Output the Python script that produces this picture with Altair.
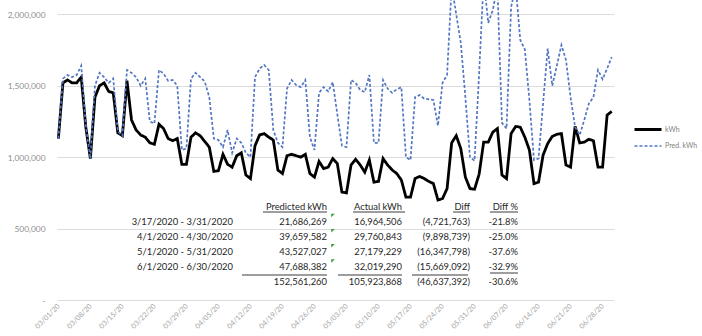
import json

import altair as alt
import pandas as pd

FONT = "Lato"

# Daily energy use, 3/1/2020 .. 6/30/2020 (kWh)
kwh = [
    1130000, 1520000, 1540000, 1520000, 1520000, 1560000, 1210000,
    990000, 1420000, 1500000, 1520000, 1460000, 1450000, 1170000,
    1150000, 1535000, 1260000, 1190000, 1155000, 1140000, 1100000,
    1090000, 1230000, 1200000, 1130000, 1115000, 1130000, 950000,
    950000, 1140000, 1170000, 1150000, 1110000, 1070000, 900000,
    905000, 1020000, 950000, 930000, 1010000, 1030000, 875000,
    850000, 1080000, 1155000, 1165000, 1140000, 1120000, 910000,
    885000, 1010000, 1020000, 1010000, 1000000, 1020000, 885000,
    860000, 970000, 920000, 930000, 990000, 955000, 755000,
    750000, 945000, 985000, 945000, 895000, 980000, 825000,
    830000, 990000, 945000, 910000, 885000, 840000, 720000,
    720000, 850000, 865000, 850000, 830000, 815000, 700000,
    710000, 780000, 1100000, 1150000, 1060000, 860000, 780000,
    775000, 880000, 1105000, 1105000, 1175000, 1200000, 875000,
    850000, 1165000, 1215000, 1210000, 1140000, 1050000, 815000,
    825000, 1015000, 1095000, 1145000, 1160000, 1165000, 945000,
    930000, 1215000, 1100000, 1105000, 1125000, 1115000, 930000,
    930000, 1295000, 1320000,
]

pred_kwh = [
    1130000, 1550000, 1575000, 1560000, 1575000, 1640000, 1220000,
    990000, 1500000, 1590000, 1560000, 1520000, 1550000, 1180000,
    1150000, 1610000, 1590000, 1560000, 1500000, 1550000, 1250000,
    1235000, 1610000, 1585000, 1535000, 1540000, 1500000, 1050000,
    1060000, 1550000, 1590000, 1560000, 1530000, 1420000, 1130000,
    1120000, 1070000, 1190000, 1030000, 1130000, 1100000, 1030000,
    1000000, 1560000, 1620000, 1645000, 1610000, 1190000, 1100000,
    1070000, 1480000, 1540000, 1505000, 1490000, 1540000, 1140000,
    1050000, 1450000, 1490000, 1460000, 1525000, 1300000, 1080000,
    1070000, 1540000, 1520000, 1470000, 1455000, 1575000, 1100000,
    1100000, 1540000, 1480000, 1450000, 1475000, 1490000, 1000000,
    980000, 1420000, 1435000, 1410000, 1405000, 1400000, 1220000,
    1520000, 1575000, 2200000, 2000000, 1800000, 1420000, 1000000,
    975000, 1580000, 2250000, 1940000, 2030000, 2200000, 1240000,
    1200000, 2050000, 2200000, 1820000, 1755000, 1400000, 980000,
    990000, 1380000, 1760000, 1500000, 1640000, 1785000, 1680000,
    1420000, 1210000, 1155000, 1260000, 1375000, 1420000, 1610000,
    1545000, 1620000, 1700000,
]

series_names = ["kWh", "Pred. kWh"]

# weekly date labels along the x axis (one every 7 days from 3/1)
tick_labels = [
    "03/01/20", "03/08/20", "03/15/20", "03/22/20", "03/29/20", "04/05/20",
    "04/12/20", "04/19/20", "04/26/20", "05/03/20", "05/10/20", "05/17/20",
    "05/24/20", "05/31/20", "06/07/20", "06/14/20", "06/21/20", "06/28/20",
]
y_ticks = [0, 500000, 1000000, 1500000, 2000000]

# monthly summary table
periods = ["3/17/2020 - 3/31/2020", "4/1/2020 - 4/30/2020",
           "5/1/2020 - 5/31/2020", "6/1/2020 - 6/30/2020"]
predicted_totals = [21686269, 39659582, 43527027, 47688382]
actual_totals = [16964506, 29760843, 27179229, 32019290]
headers = ["", "Predicted kWh", "Actual kWh", "Diff", "Diff %"]


def acct(v):
    return f"({abs(v):,})" if v < 0 else f"{v:,}"


pred_sum = sum(predicted_totals)
act_sum = sum(actual_totals)
diffs = [a - p for a, p in zip(actual_totals, predicted_totals)]
pcts = [d / p for d, p in zip(diffs, predicted_totals)]

table = pd.DataFrame({
    "row": list(range(6)),
    "period": [headers[0]] + periods + [""],
    "pred": [headers[1]] + [f"{v:,}" for v in predicted_totals] + [f"{pred_sum:,}"],
    "actual": [headers[2]] + [f"{v:,}" for v in actual_totals] + [f"{act_sum:,}"],
    "diff": [headers[3]] + [acct(v) for v in diffs] + [acct(act_sum - pred_sum)],
    "pct": [headers[4]] + [f"{v * 100:.1f}%" for v in pcts]
           + [f"{(act_sum - pred_sum) / pred_sum * 100:.1f}%"],
})

days = list(range(len(kwh)))
series = pd.DataFrame({
    "day": days * 2,
    "value": kwh + pred_kwh,
    "series": [series_names[0]] * len(kwh) + [series_names[1]] * len(pred_kwh),
})

legend_cfg = dict(
    title=None, orient="none", legendX=585, legendY=123.5,
    symbolType="M-3,0H3", symbolSize=81, labelOffset=11, rowPadding=5,
    labelFont=FONT, labelFontSize=7, labelColor="#7f7f7f",
)

lines = alt.Chart(series).mark_line(clip=True).encode(
    x=alt.X(
        "day:Q",
        scale=alt.Scale(domain=[-0.3, 121.5], nice=False, zero=False),
        axis=alt.Axis(
            values=list(range(0, 120, 7)),
            labelExpr=f"{json.dumps(tick_labels)}[round(datum.value / 7)]",
            labelAngle=-45, labelAlign="right", labelBaseline="middle",
            labelPadding=5, labelFont=FONT, labelFontSize=7.2,
            labelColor="#a3a3a3", domain=False, ticks=False, grid=False,
            title=None, labelOverlap=False,
        ),
    ),
    y=alt.Y(
        "value:Q",
        scale=alt.Scale(domain=[0, 2100000], nice=False),
        axis=alt.Axis(
            values=y_ticks,
            labelExpr="datum.value == 0 ? '-' : format(datum.value, ',')",
            labelFont=FONT, labelFontSize=8.4, labelColor="#8f8f8f",
            labelPadding=12, grid=True, gridColor="#dcdcdc", gridWidth=1,
            domain=False, ticks=False, title=None,
        ),
    ),
    color=alt.Color("series:N",
                    scale=alt.Scale(domain=series_names, range=["#000000", "#5376c2"]),
                    legend=alt.Legend(**legend_cfg)),
    strokeDash=alt.StrokeDash("series:N",
                              scale=alt.Scale(domain=series_names, range=[[1, 0], [3, 2]]),
                              legend=alt.Legend(**legend_cfg)),
    strokeWidth=alt.StrokeWidth("series:N",
                                scale=alt.Scale(domain=series_names, range=[2.8, 1.7]),
                                legend=alt.Legend(**legend_cfg)),
)

row_scale = alt.Scale(type="point", domain=list(range(6)), range=[206.5, 282], padding=0)

# right edge of each table column within the plot area
col_right = {"period": 176, "pred": 270, "actual": 345, "diff": 413, "pct": 461}


def text_col(field):
    return alt.Chart(table).mark_text(
        align="right", baseline="middle", font=FONT, fontSize=9.4, color="#262626"
    ).encode(
        x=alt.value(col_right[field]),
        y=alt.Y("row:O", scale=row_scale, axis=None),
        text=f"{field}:N",
    )


text_layers = [text_col(c) for c in ["period", "pred", "actual", "diff", "pct"]]

# header underlines and the subtotal rules of the table
rule_segments = [
    (206, 270, 212), (296, 348, 212), (396, 413, 212), (433, 461, 212),
    (185, 270, 275), (281, 345, 275), (355, 411, 275), (433, 461, 273),
]
rule_df = pd.DataFrame({"k": [0]})
rules = [
    alt.Chart(rule_df).mark_rule(color="#262626", strokeWidth=0.9).encode(
        x=alt.value(a), x2=alt.value(b), y=alt.value(c)
    )
    for a, b, c in rule_segments
]

# Excel-style error flags beside the predicted figures
flags = alt.Chart(table[(table.row >= 1) & (table.row <= 4)]).mark_point(
    shape="M-1,-1H1L-1,1Z", filled=True, size=12, color="#2e9a2e", opacity=1, yOffset=-6
).encode(
    x=alt.value(276),
    y=alt.Y("row:O", scale=row_scale, axis=None),
)

chart = alt.layer(lines, *text_layers, flags, *rules).resolve_scale(
    y="independent"
).properties(
    width=557, height=300, autosize="none",
    padding={"left": 57, "top": 0, "right": 88, "bottom": 36},
    background="white",
).configure_view(stroke=None)

chart.save("out.html", embed_options={"renderer": "svg", "actions": False})
